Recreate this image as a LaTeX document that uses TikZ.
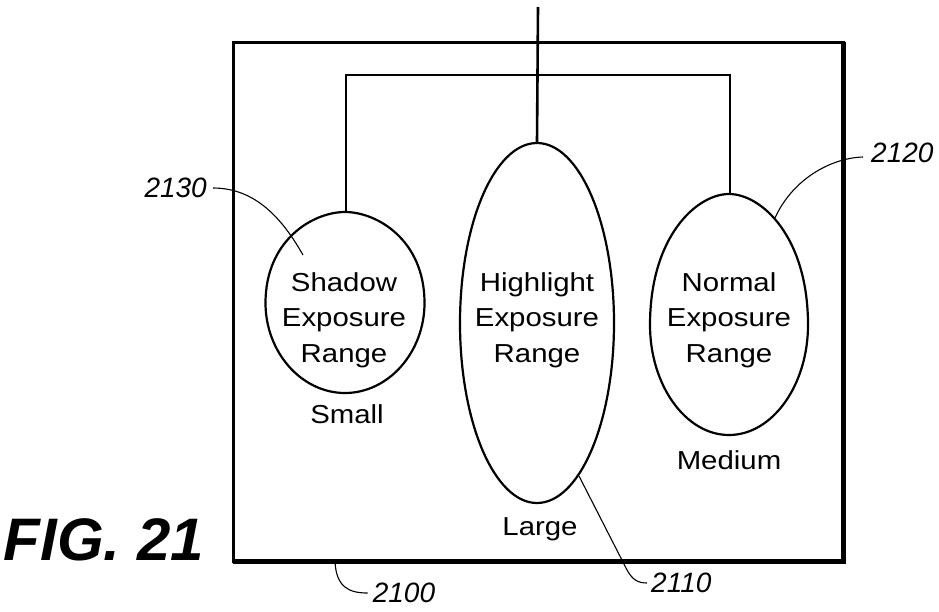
\documentclass[tikz,border=0pt]{standalone}
\usepackage{fontspec}
\setmainfont{Liberation Sans}
\newfontfamily\bodyfont[FakeStretch=1.13]{Liberation Sans}
\usetikzlibrary{shapes.geometric}
\begin{document}
\begin{tikzpicture}[x=1pt,y=-1pt,
  eggline/.style={line width=2.2pt},
  conn/.style={line width=2.6pt},
  lead/.style={line width=1.1pt},
  txt/.style={font=\bodyfont\fontsize{26}{35.5}\selectfont, align=center, inner sep=0},
  num/.style={font=\fontsize{28}{30}\selectfont\itshape, inner sep=0},
]
\useasboundingbox (0,0) rectangle (939,611);

% outer box
\node[draw, line width=3pt, minimum width=610pt, minimum height=519pt, inner sep=0, outer sep=0] (box) at (538,301.5) {};
\draw[line width=5pt] (box.north east) -- (box.south east) -- (box.south west);

% highlight ellipse
\node[ellipse, draw, eggline, minimum width=154pt, minimum height=360pt, inner sep=0] (hl) at (537,323) {};

% shadow egg
\draw[eggline] (345,212) .. controls (377,212) and (424.5,240) .. (424.5,303)
  .. controls (424.5,352) and (388.7,393) .. (345,393)
  .. controls (301.3,393) and (265.5,352) .. (265.5,303)
  .. controls (265.5,240) and (313,212) .. (345,212) -- cycle;

% normal egg
\draw[eggline] (729,194) .. controls (761,194) and (808,236) .. (808,325)
  .. controls (808,385) and (772.5,435) .. (729,435)
  .. controls (685.5,435) and (650,385) .. (650,325)
  .. controls (650,236) and (697,194) .. (729,194) -- cycle;

% connectors
\coordinate (topEnd) at (538,7);
\coordinate (sTop) at (346,213);
\coordinate (nTop) at (730,195);
\coordinate (bar) at (538,75);
\draw[conn] (topEnd) -- (hl.north);
\draw[conn] (sTop) |- (bar) -| (nTop);

% texts
\node[txt] (sT) at (344,320) {Shadow\\Exposure\\Range};
\node[txt] (hT) at (537,320) {Highlight\\Exposure\\Range};
\node[txt] (nT) at (729,320) {Normal\\Exposure\\Range};
\node[txt] (small) at (347,414) {Small};
\node[txt] (large) at (540,529) {Large};
\node[txt] (medium) at (729,460) {Medium};

% reference numerals
\node[num, anchor=west] (l2120) at (871,153) {2120};
\node[num, anchor=east] (l2130) at (207,188) {2130};
\node[num] (l2100) at (404,593) {2100};
\node[num, anchor=west] (l2110) at (651,583) {2110};
\node[font=\fontsize{60}{60}\selectfont\bfseries\itshape, inner sep=0, anchor=base east] (fig) at (204,560) {FIG. 21};

% leaders
\coordinate (p2120) at (775,218);
\coordinate (p2130) at (303,255);
\coordinate (p2100) at (335,561);
\coordinate (p2110) at (579,476);
\draw[lead] ([shift={(-8,4)}]l2120.west) .. controls (830,158) and (792,180) .. (p2120);
\draw[lead] ([xshift=6pt]l2130.east) .. controls (255,188) and (282,218) .. (p2130);
\draw[lead] (p2100) .. controls (336,588) and (350,593) .. ([xshift=-5pt]l2100.west);
\draw[lead] (p2110) -- (626,568) .. controls (632,580) and (638,583) .. ([xshift=-4pt]l2110.west);
\end{tikzpicture}
\end{document}
